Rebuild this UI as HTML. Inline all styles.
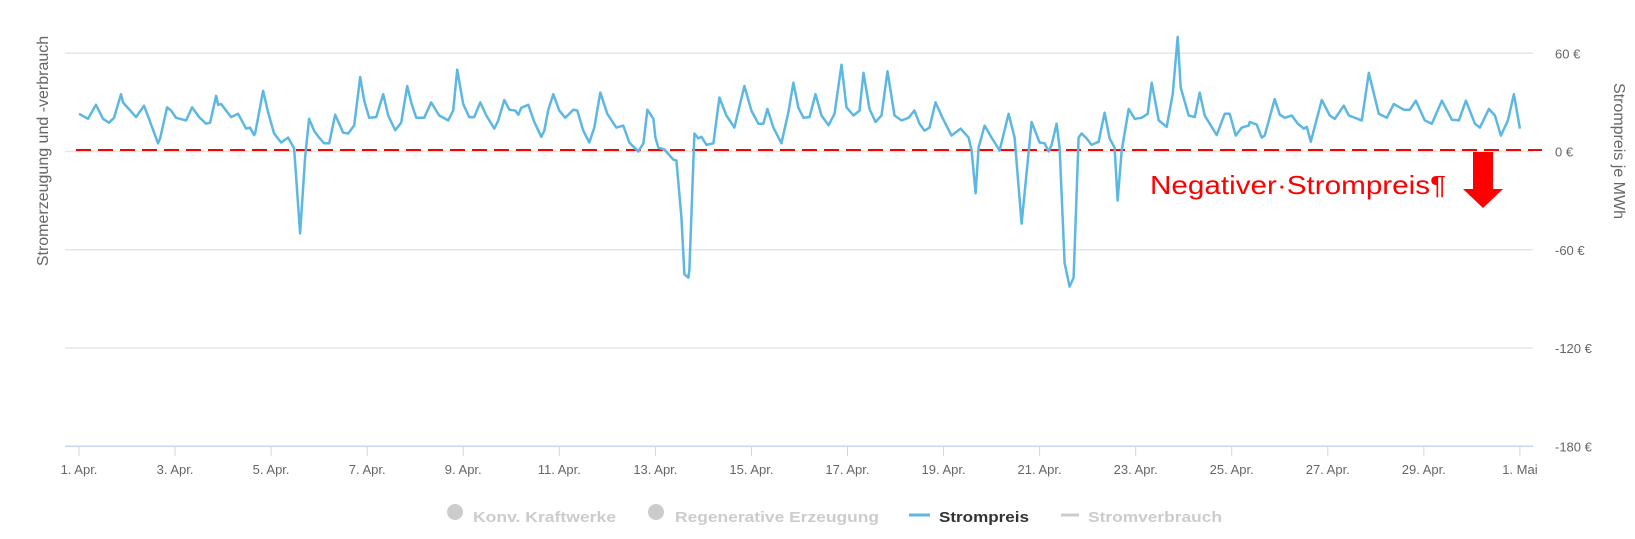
<!DOCTYPE html>
<html><head><meta charset="utf-8"><style>
html,body{margin:0;padding:0;background:#fff;}
svg{display:block;font-family:"Liberation Sans",Arial,sans-serif;}
</style></head><body>
<svg id="chart" width="1635" height="539" viewBox="0 0 1635 539" xmlns="http://www.w3.org/2000/svg">
<g id="grid"></g>
<g id="xaxis"></g>
<g id="yaxis"></g>
<text transform="translate(48,151) rotate(-90)" text-anchor="middle" font-size="16" fill="#666">Stromerzeugung und -verbrauch</text>
<text transform="translate(1614,151) rotate(90)" text-anchor="middle" font-size="16" fill="#666">Strompreis je MWh</text>
<line x1="76" y1="150" x2="1542" y2="150" stroke="#ff0000" stroke-width="2" stroke-dasharray="15,7"/>
<path id="series" fill="none" stroke="#5db7e3" stroke-width="2.5" stroke-linejoin="round"/>
<text x="1150" y="194" font-size="26" fill="#ff0000" textLength="296" lengthAdjust="spacingAndGlyphs">Negativer·Strompreis¶</text>
<polygon points="1473,152 1493,152 1493,189 1503,189 1483,208 1463,189 1473,189" fill="#ff0000"/>
<g>
 <g>
  <circle cx="455" cy="512" r="8" fill="#cccccc"/>
  <text x="473" y="522" font-size="15" font-weight="bold" fill="#cccccc" textLength="143" lengthAdjust="spacingAndGlyphs">Konv. Kraftwerke</text>
 </g>
 <g>
  <circle cx="656" cy="512" r="8" fill="#cccccc"/>
  <text x="675" y="522" font-size="15" font-weight="bold" fill="#cccccc" textLength="204" lengthAdjust="spacingAndGlyphs">Regenerative Erzeugung</text>
 </g>
 <g>
  <line x1="909" y1="515" x2="930" y2="515" stroke="#5db7e3" stroke-width="3"/>
  <text x="939" y="522" font-size="15" font-weight="bold" fill="#333333" textLength="90" lengthAdjust="spacingAndGlyphs">Strompreis</text>
 </g>
 <g>
  <line x1="1061" y1="515" x2="1079" y2="515" stroke="#cccccc" stroke-width="3"/>
  <text x="1088" y="522" font-size="15" font-weight="bold" fill="#cccccc" textLength="134" lengthAdjust="spacingAndGlyphs">Stromverbrauch</text>
 </g>
</g>
</svg>
<script>
const hours = [0,4.5,8.5,12,15,17.5,21,22,28.5,32.5,35,39.5,40.5,44,46,48.5,53.5,56.5,60,63.5,65.5,68.5,69.5,71,76,79.5,83.5,85.5,87.5,88,92,94.5,97.5,101,104.5,107.5,110.5,113,115,117.5,120,122.5,125,128,132,134.5,137.5,140.5,142.5,145,148.5,152,154.5,158,161,164,166,168.5,172.5,176,180,184.5,187,189,192,195,197.5,200.5,203.5,207.5,209.5,212.5,215,218,219.5,221,224.5,227.5,231,232.5,234.5,237,240,243,247,249,252,255,257.5,260.5,264,268.5,272,275,279.5,282,284,287,288,289.5,292.5,297,298.5,301,302.5,304.5,305,307.5,309.5,311,313.5,317,320,323.5,327.5,332.5,336,339.5,342,344,347,351,354.5,357,359.5,362,365,368,371,374.5,377.5,381,383.5,387,390,392,395,398,401,404,407.5,411,414.5,417.5,420,422.5,425,428,431.5,436,440.5,444.5,446,448,449.5,452.5,456,460,464.5,467.5,471,473.5,476,480,482.5,484.5,486,488.5,490,492.5,495,497,499.5,501,503.5,506,509.5,512.5,515,517.5,519,521,524.5,527.5,531,534,536,539.5,543.5,546.5,549,550.5,554.5,557.5,560,562.5,568.5,572.5,575,578,581,584.5,585,588.5,591,592.5,597.5,600,602.5,606,609,612,613.5,615.5,618.5,621,625,627.5,632,634.5,637.5,641,644.5,649.5,653.5,657,662,665,668,672.5,676,681,686,689.5,693,697.5,700,704.5,707.5,710.5,714,717,720];
const prices = [23,20,28.5,20,17.6,20.6,35,30,21,28,20,5,8,27,25,20.6,19,27,21,17,17.6,34,28.5,29,21,23,14,14.6,10,11,37,24,11,5.5,8.5,2,-50,-3.6,20,12.7,8.5,5,5,22.5,11.5,11,16,45.5,31,20.6,21,35,22,13,17.6,40,30,20.6,20.6,30,22,19,25,50,29,21,21,30,22,14,19,31.5,25.5,25,22.5,26.7,28.5,18,9,12.7,25.5,35,25,20.6,25.5,25,12.7,5.5,14.6,36,23,14.6,15.8,5.5,0,5,25.5,20,8.5,2.4,1.2,-5,-5.5,-40,-75,-77,-72,11,8,9,4,5,33,22,14.6,40,25,17,17,26,14.6,5,24,42,26.7,20.6,21,35,22,16,23,53,27,22,25,48,26,18,22,49,22,19,20.6,25,17,12.7,14.6,30,20.6,9.7,14,8.5,0.6,-25.5,2.4,15.8,8.5,0.6,23,8.5,-44,-13,18,5.5,5,0,4,17,2.4,-68,-82.5,-77,8.5,11,8,4,6,23.7,8,2.4,-30,0.6,26,20,20.6,23,42,19,15,35,70,39,22,21,36,22,10,23,23,9.7,14.6,15.8,18,16.4,8.5,9.7,32,22.5,20.6,22,17,14,15,6,20,31.5,22,20,28,22,20.6,19,48,23,20.6,29,25.5,25.5,31,19,17,31,19.4,19,31,17,14.6,26,22,9.7,19,35,14];
const xTickDays = [0,2,4,6,8,10,12,14,16,18,20,22,24,26,28,30];
const xTickLabels = ["1. Apr.","3. Apr.","5. Apr.","7. Apr.","9. Apr.","11. Apr.","13. Apr.","15. Apr.","17. Apr.","19. Apr.","21. Apr.","23. Apr.","25. Apr.","27. Apr.","29. Apr.","1. Mai"];
const yTicks = [60,0,-60,-120,-180];
const yTickLabels = ["60 €","0 €","-60 €","-120 €","-180 €"];

const NS = "http://www.w3.org/2000/svg";
function xScale(h){ return 79 + (h/24)*48.03; }
function yScale(v){ return 151.5 - v*1.6375; }
function mk(tag, attrs, parent){ const e=document.createElementNS(NS,tag); for(const k in attrs) e.setAttribute(k,attrs[k]); parent.appendChild(e); return e; }

const grid=document.getElementById('grid'), yax=document.getElementById('yaxis'), xax=document.getElementById('xaxis');
yTicks.forEach((v,i)=>{
  const y=yScale(v);
  if(v!==-180){
    const l=mk('line',{x1:65,x2:1533,y1:y,y2:y,stroke:'#e6e6e6','stroke-width':1.5},grid);
    
    
  }
  const t=mk('text',{x:1555,y:y+5,'font-size':13,fill:'#666'},yax);
  t.textContent=yTickLabels[i];
  
  
});
const axl=mk('line',{x1:65,x2:1533,y1:yScale(-180),y2:yScale(-180),stroke:'#ccd6eb','stroke-width':1.5},xax);


xTickDays.forEach((d,i)=>{
  const x=xScale(d*24);
  const tk=mk('line',{x1:x,x2:x,y1:yScale(-180),y2:yScale(-180)+10,stroke:'#ccd6eb','stroke-width':1},xax);
  
  
  const t=mk('text',{x:x,y:474,'font-size':13,fill:'#666','text-anchor':'middle'},xax);
  t.textContent=xTickLabels[i];
  
  
});
let d='';
hours.forEach((h,i)=>{ d+=(i?'L':'M')+xScale(h).toFixed(1)+','+yScale(prices[i]).toFixed(1); });
document.getElementById('series').setAttribute('d',d);
</script>
</body></html>
